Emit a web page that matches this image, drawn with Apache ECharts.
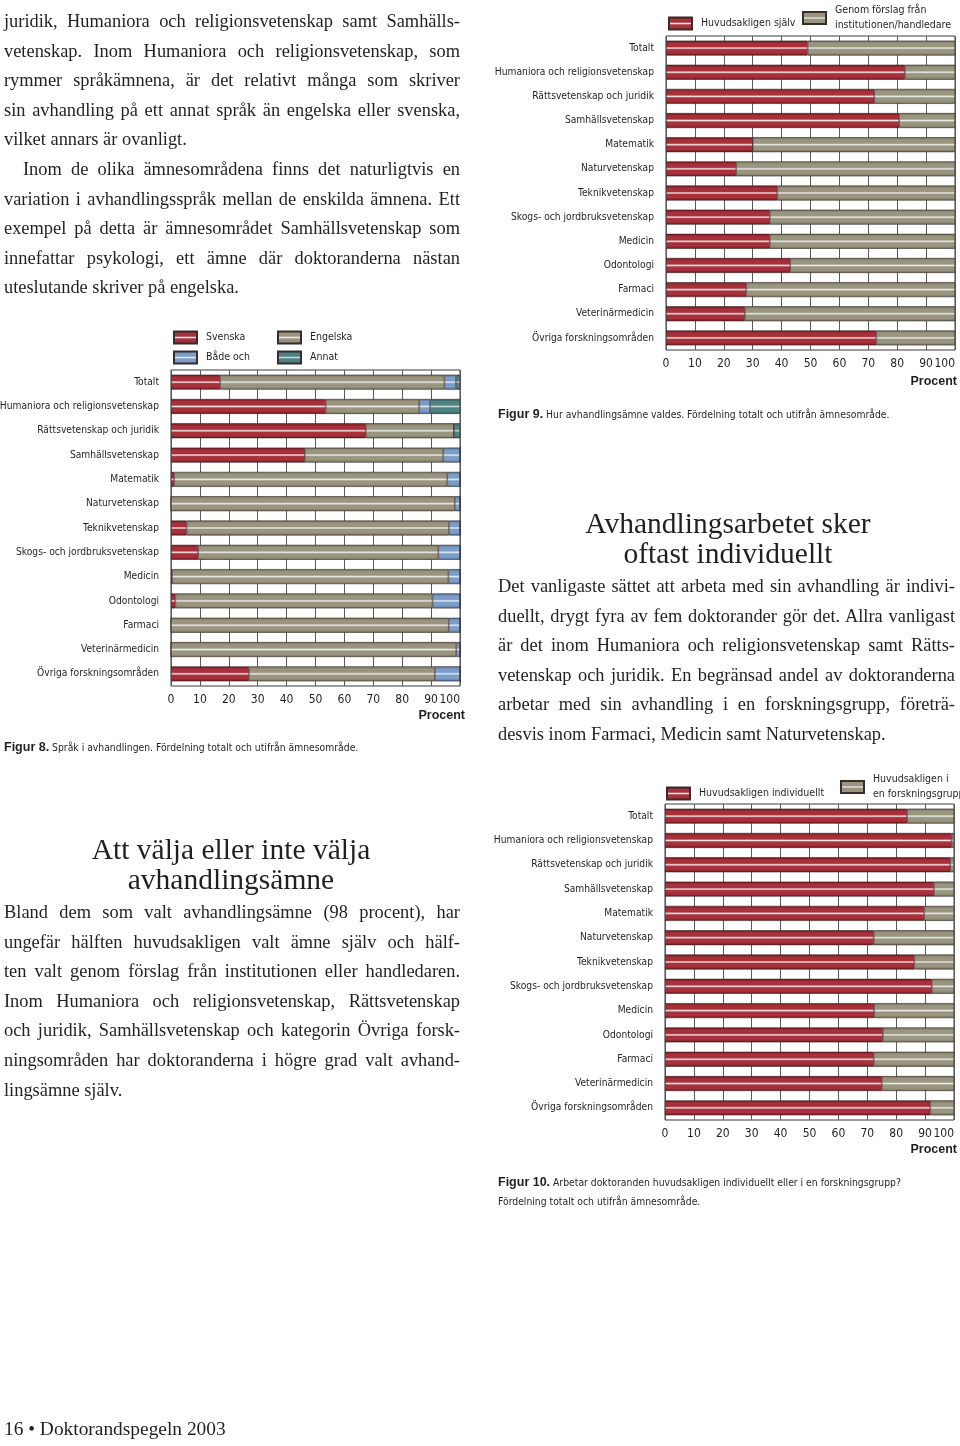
<!DOCTYPE html>
<html><head><meta charset="utf-8">
<script src="https://cdn.jsdelivr.net/npm/echarts@6/dist/echarts.min.js"></script>
<style>
html,body{margin:0;padding:0;background:#fff;}
#page{position:relative;width:960px;height:1446px;overflow:hidden;}
#chart{position:absolute;left:0;top:0;width:960px;height:1446px;}
.t{position:absolute;font-family:'Liberation Serif','DejaVu Serif',serif;color:#231f20;}
.body{font-size:18.4px;line-height:29.6px;width:456px;}
.body div{text-align:justify;text-align-last:justify;height:29.6px;}
.body div.last{text-align-last:left;}
.h{font-size:29.5px;line-height:29.5px;text-align:center;width:400px;}
.cap{position:absolute;font-family:'DejaVu Sans Condensed',sans-serif;font-size:10.3px;color:#231f20;line-height:19px;white-space:nowrap;}
.cap b{font-family:'Liberation Sans',sans-serif;font-size:12.5px;}
.proc{position:absolute;font-family:'Liberation Sans',sans-serif;font-weight:bold;font-size:12.5px;color:#231f20;}
</style></head>
<body><div id="page">
<div id="chart"></div>

<div class="t body" style="left:4px;top:7px;">
<div>juridik, Humaniora och religionsvetenskap samt Samhälls-</div>
<div>vetenskap. Inom Humaniora och religionsvetenskap, som</div>
<div>rymmer språkämnena, är det relativt många som skriver</div>
<div>sin avhandling på ett annat språk än engelska eller svenska,</div>
<div class="last">vilket annars är ovanligt.</div>
<div style="padding-left:19px">Inom de olika ämnesområdena finns det naturligtvis en</div>
<div>variation i avhandlingsspråk mellan de enskilda ämnena. Ett</div>
<div>exempel på detta är ämnesområdet Samhällsvetenskap som</div>
<div>innefattar psykologi, ett ämne där doktoranderna nästan</div>
<div class="last">uteslutande skriver på engelska.</div>
</div>

<div class="t h" style="left:528px;top:509px;">Avhandlingsarbetet sker<br>oftast individuellt</div>
<div class="t body" style="left:498px;top:572px;width:457px;">
<div>Det vanligaste sättet att arbeta med sin avhandling är indivi-</div>
<div>duellt, drygt fyra av fem doktorander gör det. Allra vanligast</div>
<div>är det inom Humaniora och religionsvetenskap samt Rätts-</div>
<div>vetenskap och juridik. En begränsad andel av doktoranderna</div>
<div>arbetar med sin avhandling i en forskningsgrupp, företrä-</div>
<div class="last">desvis inom Farmaci, Medicin samt Naturvetenskap.</div>
</div>

<div class="t h" style="left:31px;top:835px;">Att välja eller inte välja<br>avhandlingsämne</div>
<div class="t body" style="left:4px;top:898px;">
<div>Bland dem som valt avhandlingsämne (98 procent), har</div>
<div>ungefär hälften huvudsakligen valt ämne själv och hälf-</div>
<div>ten valt genom förslag från institutionen eller handledaren.</div>
<div>Inom Humaniora och religionsvetenskap, Rättsvetenskap</div>
<div>och juridik, Samhällsvetenskap och kategorin Övriga forsk-</div>
<div>ningsområden har doktoranderna i högre grad valt avhand-</div>
<div class="last">lingsämne själv.</div>
</div>

<div class="t" style="left:4px;top:1418px;font-size:19.4px;">16 • Doktorandspegeln 2003</div>

<div class="cap" style="left:4px;top:738px;"><b>Figur 8.</b> Språk i avhandlingen. Fördelning totalt och utifrån ämnesområde.</div>
<div class="cap" style="left:498px;top:405px;"><b>Figur 9.</b> Hur avhandlingsämne valdes. Fördelning totalt och utifrån ämnesområde.</div>
<div class="cap" style="left:498px;top:1173px;"><b>Figur 10.</b> Arbetar doktoranden huvudsakligen individuellt eller i en forskningsgrupp?<br>Fördelning totalt och utifrån ämnesområde.</div>

<div class="proc" style="right:495px;top:708px;">Procent</div>
<div class="proc" style="right:3px;top:374px;">Procent</div>
<div class="proc" style="right:3px;top:1142px;">Procent</div>
</div>

<script>
const categories = ['Totalt','Humaniora och religionsvetenskap','Rättsvetenskap och juridik','Samhällsvetenskap','Matematik','Naturvetenskap','Teknikvetenskap','Skogs- och jordbruksvetenskap','Medicin','Odontologi','Farmaci','Veterinärmedicin','Övriga forskningsområden'];

const fig8Svenska  = [17.0, 53.5, 67.4, 46.3, 1.1, 0.0, 5.4, 9.4, 0.4, 1.5, 0.0, 0.0, 27.0];
const fig8Engelska = [77.6, 32.4, 30.5, 47.9, 94.5, 98.2, 90.8, 83.1, 95.6, 89.0, 96.1, 98.7, 64.3];
const fig8BadeOch  = [4.0, 3.7, 0.0, 5.8, 4.4, 1.8, 3.8, 7.5, 4.0, 9.5, 3.9, 1.3, 8.7];
const fig8Annat    = [1.4, 10.4, 2.1, 0.0, 0.0, 0.0, 0.0, 0.0, 0.0, 0.0, 0.0, 0.0, 0.0];

const fig9Sjalv   = [49.0, 82.7, 72.1, 80.7, 30.0, 24.3, 38.5, 35.9, 35.9, 43.0, 27.8, 27.3, 72.8];
const fig9Forslag = [51.0, 17.3, 27.9, 19.3, 70.0, 75.7, 61.5, 64.1, 64.1, 57.0, 72.2, 72.7, 27.2];

const fig10Individuellt = [83.8, 99.2, 98.7, 93.1, 89.7, 72.2, 86.3, 92.3, 72.4, 75.4, 72.2, 75.0, 91.8];
const fig10Grupp        = [16.2, 0.8, 1.3, 6.9, 10.3, 27.8, 13.7, 7.7, 27.6, 24.6, 27.8, 25.0, 8.2];

const xTicks = [0, 10, 20, 30, 40, 50, 60, 70, 80, 90, 100];

const narrow = "'DejaVu Sans Condensed',sans-serif";

function grad(edge, mid, hi) {
  return new echarts.graphic.LinearGradient(0, 0, 0, 1, [
    {offset: 0, color: edge}, {offset: 0.18, color: mid}, {offset: 0.4, color: mid},
    {offset: 0.5, color: hi}, {offset: 0.6, color: mid}, {offset: 0.82, color: mid}, {offset: 1, color: edge}
  ]);
}
const cRed = grad('#6a1219', '#a8303a', '#f1e6ea');
const cOlive = grad('#6c6855', '#9a957e', '#e9ecf0');
const cBlue = grad('#4a6a94', '#7c9dc8', '#e2ebf5');
const cTeal = grad('#2c5658', '#4e8283', '#c4d8d8');

const grids = [
  {left: 171, top: 370, width: 289, height: 316},
  {left: 666, top: 36, width: 289, height: 314},
  {left: 665, top: 804, width: 289, height: 316}
];

function mkX(i) {
  return {
    type: 'value', gridIndex: i, min: 0, max: 100, interval: 10,
    axisLine: {show: false}, axisTick: {show: false},
    splitLine: {show: true, lineStyle: {color: '#5a5a5a', width: 1}},
    axisLabel: {
      margin: 8, color: '#231f20', fontFamily: narrow, fontSize: 12,
      alignMaxLabel: 'right', showMaxLabel: true, showMinLabel: true,
      formatter: v => xTicks.indexOf(v) >= 0 ? String(v) : ''
    }
  };
}
function mkY(i) {
  return {
    type: 'category', gridIndex: i, data: categories, inverse: true,
    axisLine: {show: false}, axisTick: {show: false}, splitLine: {show: false},
    axisLabel: {margin: 12, color: '#231f20', fontFamily: narrow, fontSize: 10.2}
  };
}
function mkS(name, data, color, i) {
  return {
    name: name, type: 'bar', stack: 's' + i, xAxisIndex: i, yAxisIndex: i,
    data: data, barWidth: 15, color: color,
    itemStyle: {color: color, borderColor: '#3b2b2b', borderWidth: 0.6},
    emphasis: {disabled: true}
  };
}
function mkL(name, left, top) {
  return {
    data: [name], left: left, top: top, itemWidth: 23, itemHeight: 12, icon: 'rect',
    selectedMode: false, padding: 0,
    textStyle: {fontFamily: narrow, fontSize: 10.5, color: '#231f20', padding: [0, 0, 0, 4], lineHeight: 15}
  };
}

const n9b = 'Genom förslag från\ninstitutionen/handledare';
const n10b = 'Huvudsakligen i\nen forskningsgrupp';

const option = {
  animation: false,
  backgroundColor: 'transparent',
  grid: grids.map(g => Object.assign({show: true, borderColor: '#3a3a3a', borderWidth: 1, backgroundColor: 'transparent', containLabel: false, outerBoundsMode: 'none'}, g)),
  xAxis: [mkX(0), mkX(1), mkX(2)],
  yAxis: [mkY(0), mkY(1), mkY(2)],
  legend: [
    mkL('Svenska', 173, 330), mkL('Engelska', 277, 330),
    mkL('Både och', 173, 350), mkL('Annat', 277, 350),
    mkL('Huvudsakligen själv', 668, 16), mkL(n9b, 802, 3),
    mkL('Huvudsakligen individuellt', 666, 786), mkL(n10b, 840, 772)
  ],
  series: [
    mkS('Svenska', fig8Svenska, cRed, 0),
    mkS('Engelska', fig8Engelska, cOlive, 0),
    mkS('Både och', fig8BadeOch, cBlue, 0),
    mkS('Annat', fig8Annat, cTeal, 0),
    mkS('Huvudsakligen själv', fig9Sjalv, cRed, 1),
    mkS(n9b, fig9Forslag, cOlive, 1),
    mkS('Huvudsakligen individuellt', fig10Individuellt, cRed, 2),
    mkS(n10b, fig10Grupp, cOlive, 2)
  ]
};
const chart = echarts.init(document.getElementById('chart'), null, {renderer: 'canvas'});
chart.setOption(option);
</script>
</body></html>
